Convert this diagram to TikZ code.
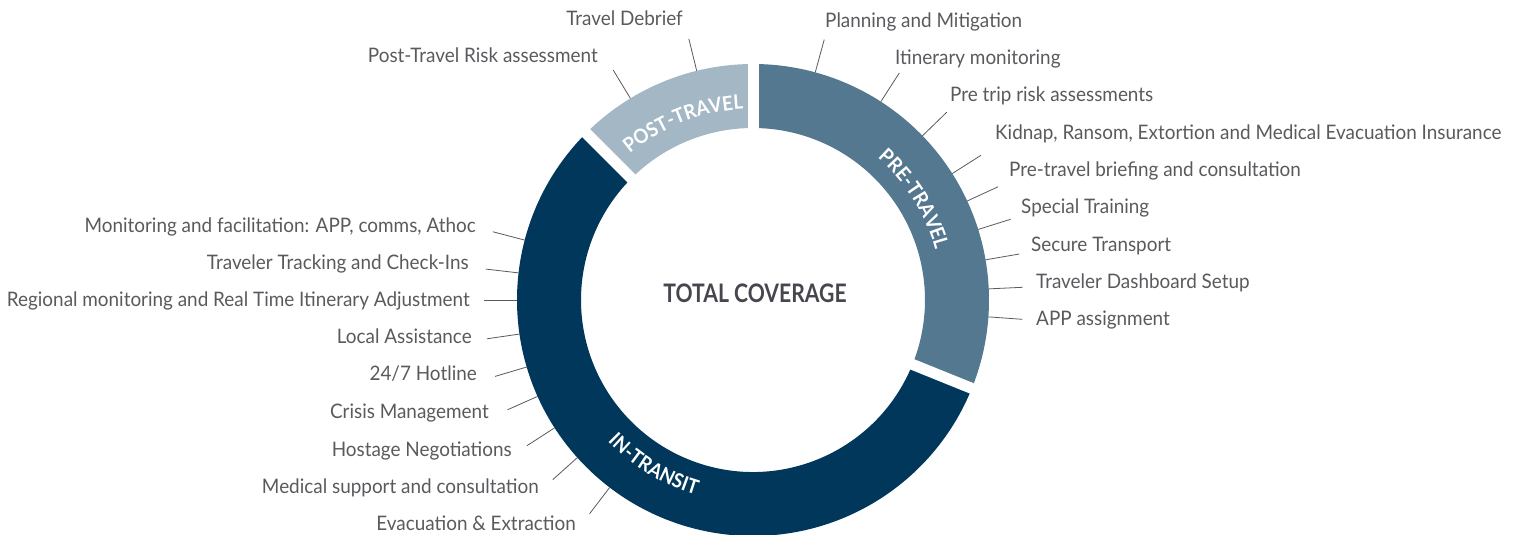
\documentclass[tikz,border=0pt]{standalone}
\usepackage{fontspec}
\setmainfont{Lato}[FakeStretch=0.945]
\newfontfamily\headfont{Lato}[FakeStretch=0.83]
\newfontfamily\arcfont{Lato}[FakeStretch=0.93]
\usetikzlibrary{decorations.text}

\definecolor{pretravel}{HTML}{557891}
\definecolor{posttravel}{HTML}{A3B7C5}
\definecolor{intransit}{HTML}{01375A}
\definecolor{labelgray}{HTML}{5A5A5E}
\definecolor{titlegray}{HTML}{46464F}

\tikzset{
	itemlabel/.style={font=\fontsize{20}{24}\selectfont, text=labelgray, inner sep=0pt},
	leader/.style={draw=labelgray, line width=0.8pt},
	gapline/.style={white, line width=11pt},
	phase/.style={decorate, decoration={text along path, text align=center, text color=white,
		text={|\arcfont\bfseries\fontsize{20}{22}\selectfont|#1}}},
}

\begin{document}
\begin{tikzpicture}[x=1pt,y=1pt]
			\useasboundingbox (-753,-235) rectangle (767,300);
			
			% ring segments
			\fill[pretravel] (90:236) arc (90:-22:236) -- (-22:172) arc (-22:90:172) -- cycle;
			\fill[posttravel] (90:236) arc (90:135:236) -- (135:172) arc (135:90:172) -- cycle;
			\fill[intransit] (135:236) arc (135:338:236) -- (338:172) arc (338:135:172) -- cycle;
			\foreach \g in {90,135,-22} {
				\draw[gapline] (\g:165) -- (\g:245);
			}
			
			\node[font=\headfont\bfseries\fontsize{25.5}{30}\selectfont, text=titlegray] (total) at (2,7) {TOTAL COVERAGE};
			
			\path[phase=PRE-TRAVEL] (62:189) arc (62:2:189);
			\path[phase=POST-TRAVEL] (141:191) arc (141:82:191);
			\path[phase=IN-TRANSIT] (210:203) arc (210:268:203);
			
			% items on the right
			\foreach \a/\x/\y/\t [count=\i] in {
				74.7/72/272/Planning and Mitigation,
				57.2/142/235/Itinerary monitoring,
				44.1/197/198/Pre trip risk assessments,
				32.4/242/160/{Kidnap, Ransom, Extortion and Medical Evacuation Insurance},
				24.8/256/123/Pre-travel briefing and consultation,
				17.4/268/86/Special Training,
				9.8/278/48/Secure Transport,
				2.7/283/11/Traveler Dashboard Setup,
				-4.1/283/-26/APP assignment} {
				\coordinate (rp\i) at (\a:236);
				\coordinate (rq\i) at (\a:270);
				\node[itemlabel, anchor=base west] (rl\i) at (\x,\y) {\t};
				\draw[leader] (rp\i) -- (rq\i);
			}
			
			% items on the left
			\foreach \a/\x/\y/\t [count=\i] in {
				103.8/-70/274/Travel Debrief,
				121.3/-155/237/Post-Travel Risk assessment,
				165.3/-277/67/{Monitoring and facilitation: APP, comms, Athoc},
				173.4/-284/30/Traveler Tracking and Check-Ins,
				180/-283/-7/Regional monitoring and Real Time Itinerary Adjustment,
				188.3/-281/-44/Local Assistance,
				196.5/-276/-81/{24/7 Hotline},
				204.1/-264/-118/Crisis Management,
				212.8/-241/-156/Hostage Negotiations,
				221.9/-214/-193/Medical support and consultation,
				232.6/-177/-230/Evacuation \& Extraction} {
				\coordinate (lp\i) at (\a:236);
				\coordinate (lq\i) at (\a:269);
				\node[itemlabel, anchor=base east] (ll\i) at (\x,\y) {\t};
				\draw[leader] (lp\i) -- (lq\i);
			}
		\end{tikzpicture}
\end{document}
